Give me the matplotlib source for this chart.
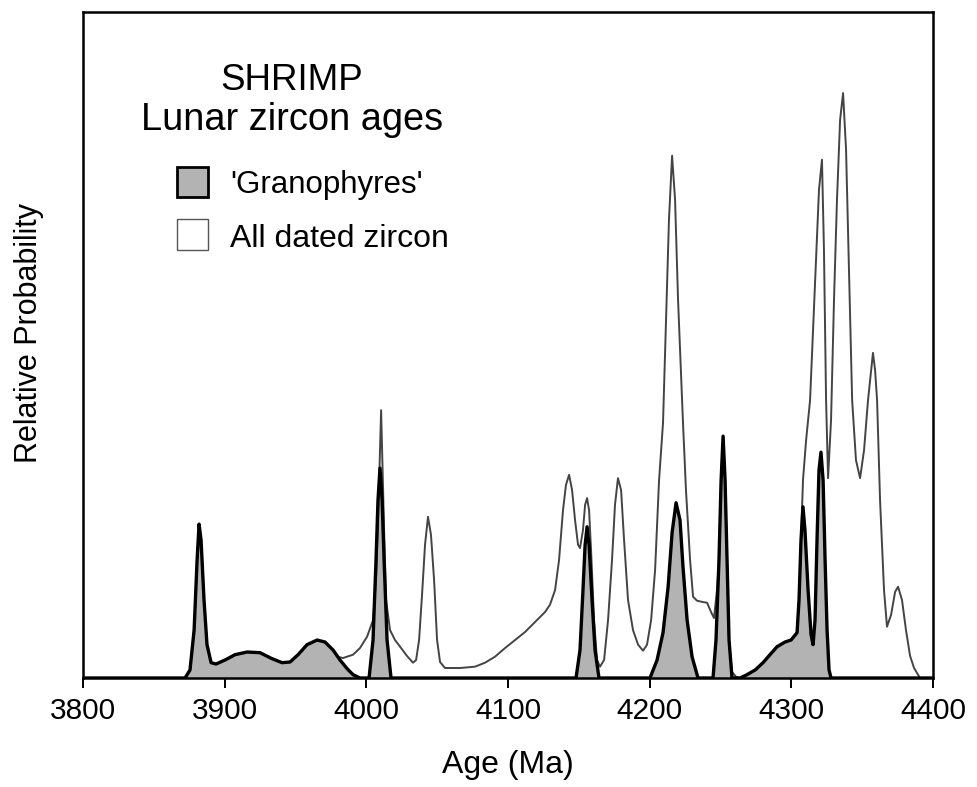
import matplotlib
matplotlib.use("Agg")
from matplotlib import pyplot as plt
from matplotlib.patches import Rectangle

plt.rcParams['font.family'] = ['Liberation Sans', 'DejaVu Sans']

# eixo x: idade (Ma); eixo y: probabilidade relativa (unidades arbitrárias, 0-100)
idade_todos = [3800, 3872.0, 3875.5, 3878.4, 3880.5, 3881.9, 3883.3, 3885.4, 3887.5, 3890.4,
               3893.9, 3900.2, 3907.3, 3915.8, 3924.9, 3933.4, 3940.5, 3946.1, 3951.8, 3958.1,
               3965.2, 3970.8, 3976.5, 3979.3, 3983.5, 3990.6, 3995.5, 4000.5, 4004.7, 4006.8,
               4008.2, 4009.6, 4010.4, 4011.1, 4012.5, 4013.9, 4016.7, 4020.2, 4023.8, 4028.7,
               4032.9, 4035.1, 4037.2, 4039.3, 4041.4, 4043.5, 4045.6, 4047.8, 4049.9, 4052.0,
               4055.5, 4066.1, 4076.7, 4083.8, 4090.8, 4097.9, 4104.9, 4112.0, 4119.1, 4126.1,
               4129.6, 4133.2, 4136.0, 4138.8, 4140.9, 4143.1, 4145.2, 4147.3, 4149.4, 4150.8,
               4152.9, 4154.4, 4155.8, 4157.2, 4158.6, 4160.7, 4162.8, 4164.9, 4167.8, 4170.6,
               4173.4, 4175.5, 4177.6, 4179.8, 4181.9, 4184.7, 4188.2, 4191.8, 4195.3, 4198.1,
               4201.0, 4203.8, 4206.6, 4209.4, 4211.5, 4213.6, 4215.8, 4217.9, 4220.0, 4223.5,
               4225.6, 4228.5, 4230.6, 4233.4, 4237.6, 4240.5, 4243.3, 4245.4, 4247.5, 4248.9,
               4250.4, 4251.8, 4253.2, 4254.6, 4256.0, 4258.1, 4260.9, 4263.8, 4268.7, 4274.4,
               4280.0, 4284.9, 4289.9, 4295.5, 4299.8, 4304.0, 4305.4, 4306.8, 4308.2, 4310.4,
               4313.2, 4315.3, 4317.4, 4319.5, 4321.6, 4323.0, 4324.5, 4325.9, 4328.0, 4330.1,
               4332.2, 4334.4, 4336.5, 4338.6, 4340.8, 4342.9, 4345.6, 4348.5, 4351.3, 4354.1,
               4357.6, 4359.1, 4360.5, 4362.6, 4365.4, 4367.5, 4370.4, 4373.2, 4375.3, 4378.1,
               4380.9, 4383.8, 4386.6, 4390.8, 4400]
prob_todos = [0, 0, 1.2, 7.2, 17.7, 23.1, 20.7, 11.7, 5.0, 2.3,
              2.1, 2.7, 3.5, 3.9, 3.8, 2.9, 2.3, 2.4, 3.5, 5.0,
              5.7, 5.4, 4.2, 3.2, 3.0, 3.5, 4.5, 6.2, 8.7, 14.7,
              23.3, 34.2, 40.2, 34.2, 22.2, 11.7, 7.2, 5.7, 4.7, 3.3,
              2.3, 2.7, 5.7, 12.5, 20.0, 24.2, 21.5, 14.7, 5.7, 2.4,
              1.5, 1.5, 1.7, 2.3, 3.2, 4.5, 5.7, 6.9, 8.4, 9.9,
              11.0, 13.2, 17.7, 25.2, 29.0, 30.5, 28.2, 23.7, 20.0, 19.5,
              22.2, 26.0, 27.0, 25.2, 19.2, 8.7, 2.7, 1.7, 2.7, 8.7,
              17.7, 26.0, 30.0, 28.2, 20.7, 11.7, 7.2, 5.0, 4.1, 5.0,
              8.7, 16.2, 29.7, 38.3, 53.8, 68.8, 78.4, 71.8, 56.8, 38.3,
              28.2, 17.7, 12.2, 11.6, 11.4, 11.3, 9.9, 9.0, 13.2, 17.7,
              29.7, 36.3, 29.7, 17.7, 5.7, 0.9, 0.2, 0, 0.5, 1.2,
              2.3, 3.5, 4.7, 5.4, 5.7, 6.8, 11.7, 20.7, 29.7, 35.7,
              41.7, 52.3, 62.8, 73.3, 77.8, 64.3, 41.7, 30.0, 38.7, 56.8,
              71.8, 83.8, 87.8, 79.3, 59.8, 41.7, 32.7, 30.0, 34.2, 41.7,
              48.8, 46.2, 41.7, 26.7, 13.2, 7.7, 9.5, 12.9, 13.7, 11.7,
              7.2, 3.3, 1.5, 0, 0]

idade_gran = [3800, 3872.0, 3875.5, 3878.4, 3880.5, 3881.9, 3883.3, 3885.4, 3887.5, 3890.4,
              3893.9, 3900.2, 3907.3, 3915.8, 3924.9, 3933.4, 3940.5, 3946.1, 3951.8, 3958.1,
              3965.2, 3970.8, 3976.5, 3981.4, 3986.4, 3990.6, 3995.5, 4001.9, 4004.7, 4006.8,
              4008.2, 4009.6, 4011.1, 4012.5, 4014.6, 4017.4, 4148.0, 4150.8, 4152.9, 4154.4,
              4155.8, 4157.2, 4159.3, 4161.4, 4164.2, 4200.2, 4205.2, 4209.4, 4213.0, 4215.8,
              4218.6, 4221.4, 4223.5, 4226.4, 4229.9, 4234.1, 4244.7, 4246.8, 4248.9, 4250.4,
              4251.8, 4253.2, 4254.6, 4256.0, 4258.1, 4263.8, 4268.7, 4274.4, 4280.0, 4284.9,
              4289.9, 4295.5, 4299.8, 4304.0, 4305.4, 4306.8, 4308.2, 4309.6, 4311.8, 4313.9,
              4315.3, 4316.7, 4318.1, 4319.5, 4320.9, 4322.4, 4323.8, 4325.2, 4326.6, 4328.0,
              4400]
prob_gran = [0, 0, 1.2, 7.2, 17.7, 23.1, 20.7, 11.7, 5.0, 2.3,
             2.1, 2.7, 3.5, 3.9, 3.8, 2.9, 2.3, 2.4, 3.5, 5.0,
             5.7, 5.4, 4.2, 2.7, 1.4, 0.5, 0, 0, 5.7, 17.7,
             26.7, 31.5, 26.7, 17.7, 5.7, 0, 0, 4.2, 13.2, 20.0,
             22.7, 20.0, 11.7, 4.2, 0, 0, 2.7, 6.8, 13.7, 21.8,
             26.3, 23.7, 16.7, 8.7, 3.2, 0, 0, 5.7, 17.7, 29.7,
             36.3, 29.7, 17.7, 5.7, 0, 0, 0.5, 1.2, 2.3, 3.5,
             4.7, 5.4, 5.7, 6.8, 11.7, 20.7, 25.7, 22.2, 13.2, 6.5,
             5.0, 8.7, 20.7, 31.2, 33.9, 29.7, 17.7, 7.2, 1.2, 0,
             0]

marcas_x = [3800, 3900, 4000, 4100, 4200, 4300, 4400]

fig = plt.figure(figsize=(9.77, 7.87), dpi=100)
ax = fig.add_axes([0.085, 0.1385, 0.87, 0.8465])

ax.fill_between(idade_gran, prob_gran, 0, color='#b3b3b3', lw=0, zorder=1)
ax.plot(idade_todos, prob_todos, color='#444444', lw=1.4, zorder=2)
ax.plot(idade_gran, prob_gran, color='black', lw=2.4, zorder=3)

ax.set_xlim(3800, 4400)
ax.set_ylim(0, 100)
ax.set_xticks(marcas_x)
ax.set_yticks([])
ax.tick_params(axis='x', direction='out', length=7, width=1.4, labelsize=21.5, pad=7)
for s in ax.spines.values():
    s.set_linewidth(1.8)
    s.set_color('black')

ax.set_xlabel('Age (Ma)', fontsize=23, labelpad=18)
ax.set_ylabel('Relative Probability', fontsize=22)
ax.yaxis.set_label_coords(-0.046, 0.518)

# título e legenda desenhados à mão
ax.text(0.246, 0.883, 'SHRIMP', transform=ax.transAxes, ha='center', va='baseline', fontsize=26.5)
ax.text(0.246, 0.823, 'Lunar zircon ages', transform=ax.transAxes, ha='center', va='baseline', fontsize=27.4)
ax.add_patch(Rectangle((0.1106, 0.722), 0.0365, 0.045, transform=ax.transAxes,
                       facecolor='#b3b3b3', edgecolor='black', lw=2.0))
ax.add_patch(Rectangle((0.1106, 0.6426), 0.0365, 0.047, transform=ax.transAxes,
                       facecolor='white', edgecolor='#555555', lw=1.0))
ax.text(0.173, 0.728, "'Granophyres'", transform=ax.transAxes, va='baseline', fontsize=22.5)
ax.text(0.173, 0.647, 'All dated zircon', transform=ax.transAxes, va='baseline', fontsize=23)

plt.savefig('out.png', dpi=100)
